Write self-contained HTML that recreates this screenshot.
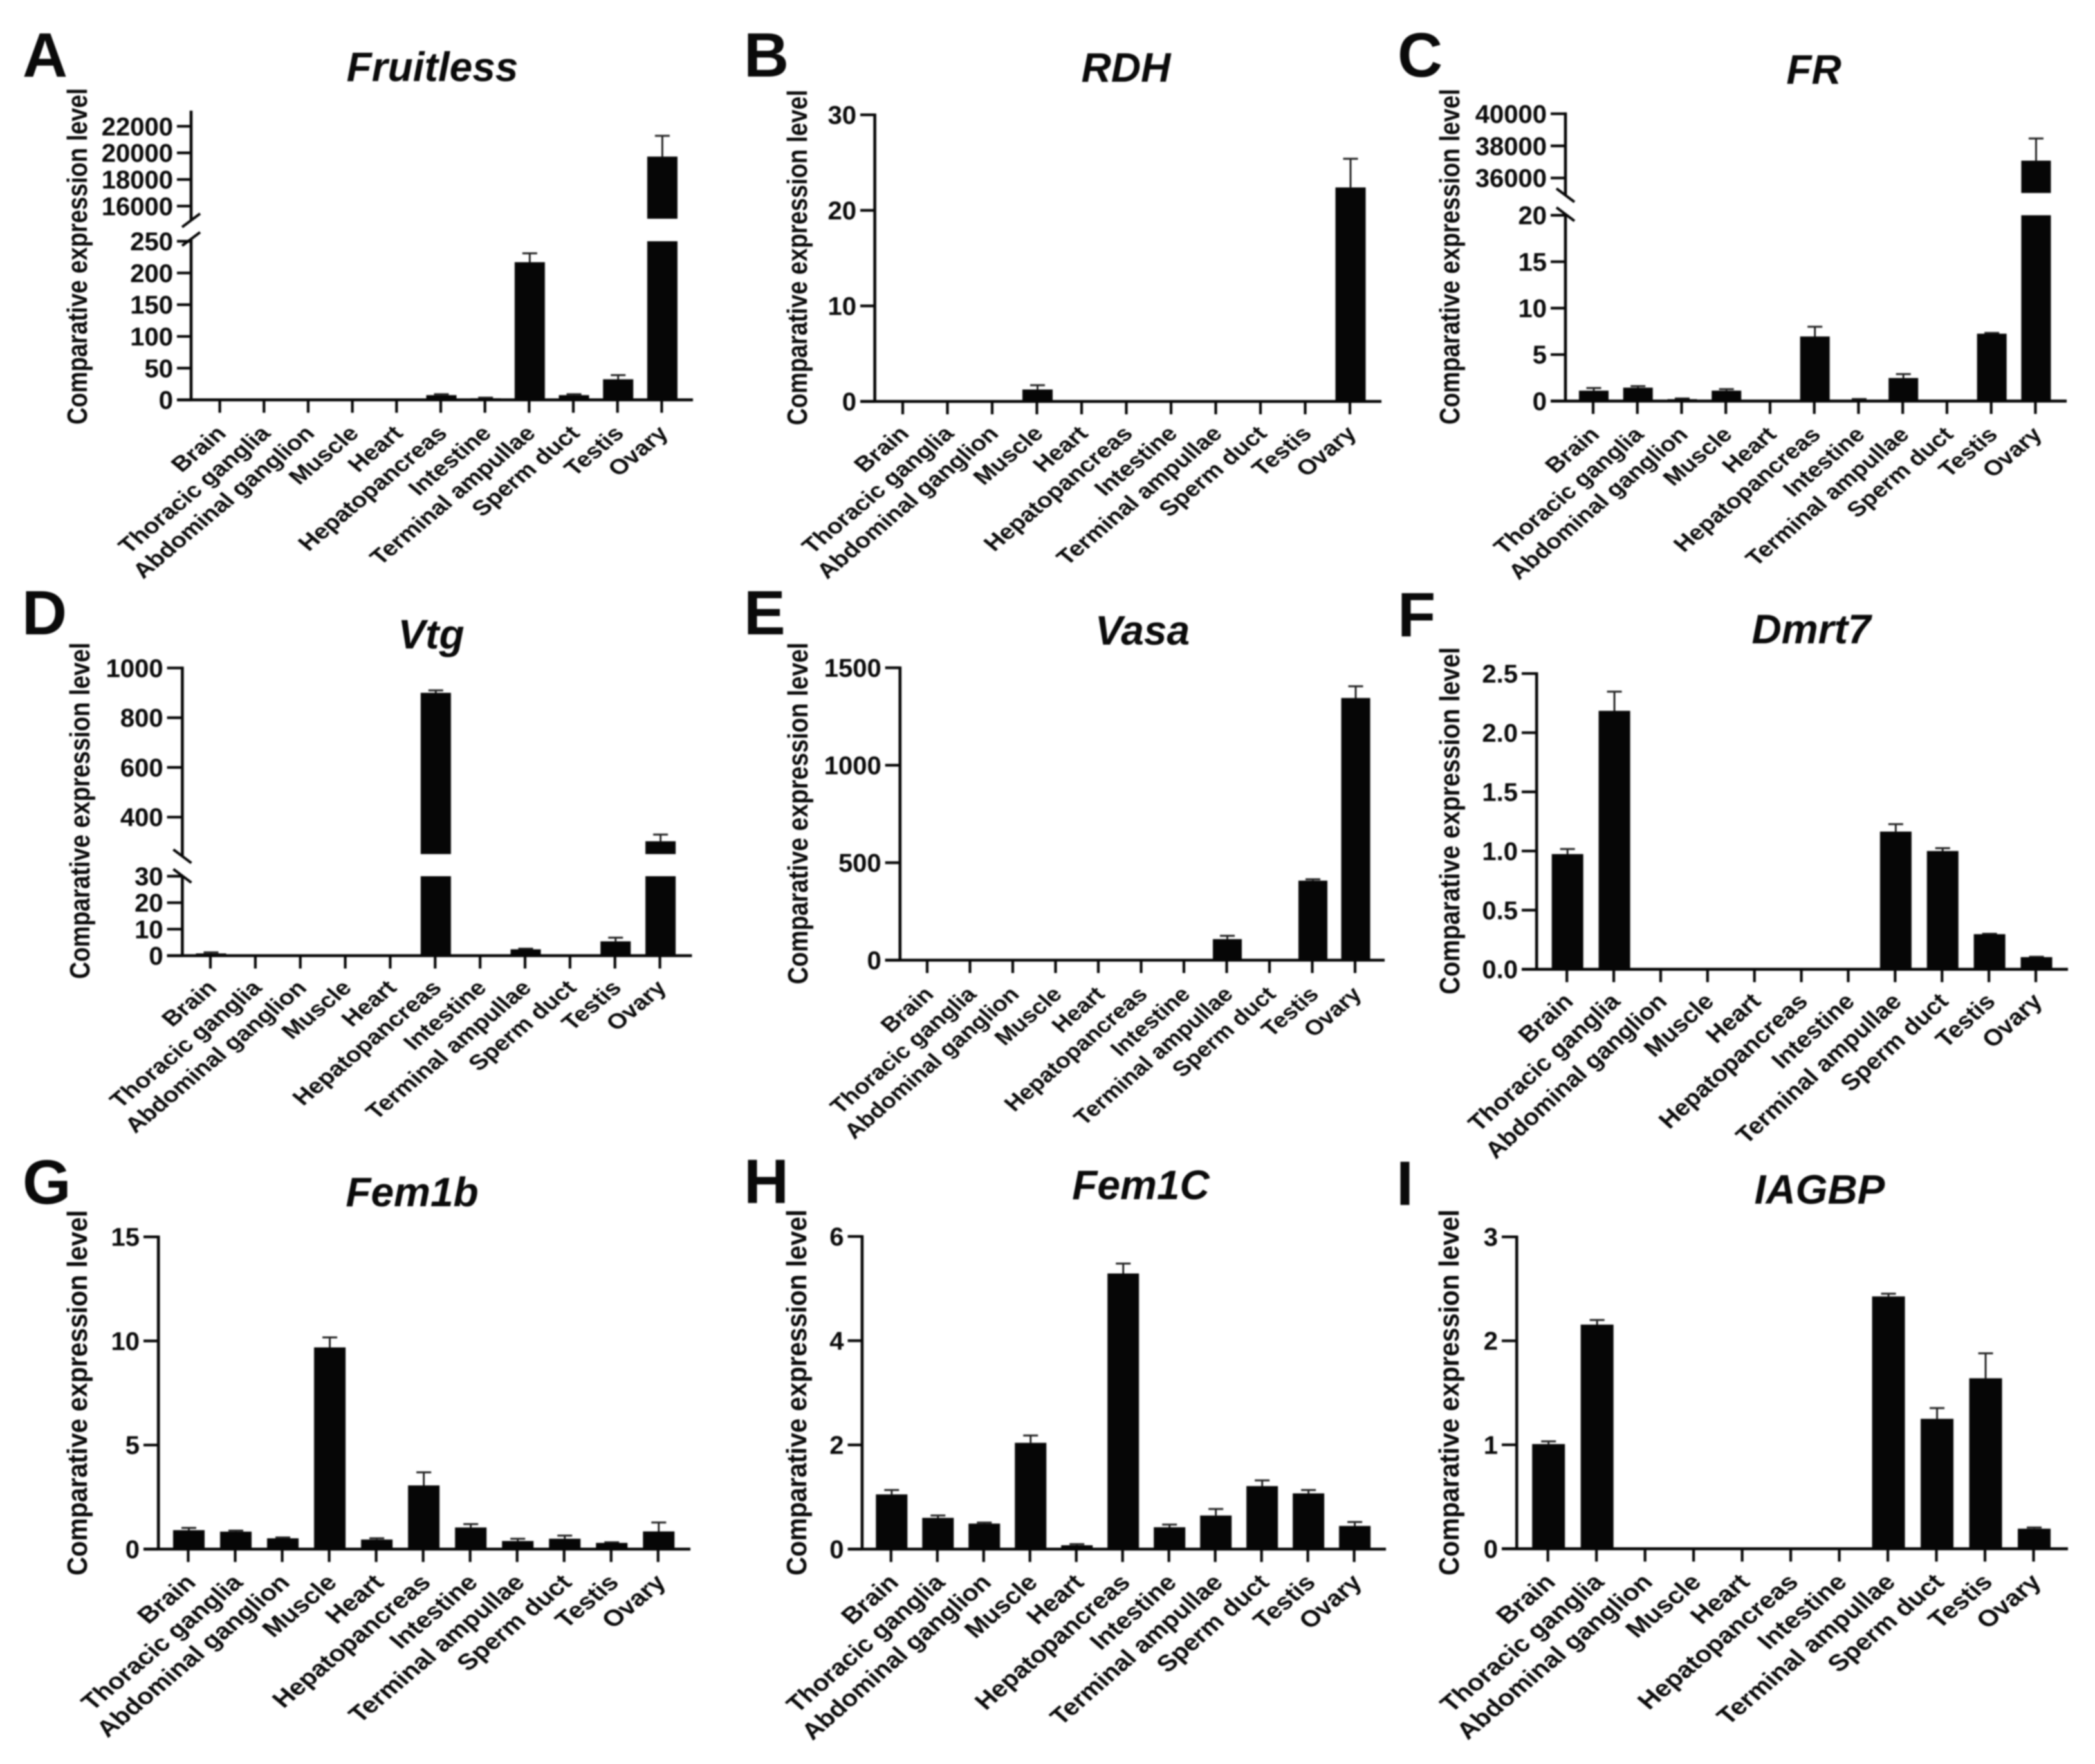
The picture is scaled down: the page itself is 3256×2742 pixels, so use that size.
<!DOCTYPE html>
<html lang="en">
<head>
<meta charset="utf-8">
<title>Comparative expression level across tissues</title>
<style>
html,body{margin:0;padding:0;background:#fff;}
#figure{display:block;width:3256px;height:2742px;filter:blur(1px);}
text{font-family:"Liberation Sans",Arial,sans-serif;font-weight:bold;fill:#0a0a0a;}
</style>
</head>
<body>
<svg id="figure" xmlns="http://www.w3.org/2000/svg" width="3256" height="2742" viewBox="0 0 3256 2742"></svg>
<script>
const tissues = ["Brain","Thoracic ganglia","Abdominal ganglion","Muscle","Heart","Hepatopancreas","Intestine","Terminal ampullae","Sperm duct","Testis","Ovary"];

const fruitlessValues = [0.3,0.2,0.4,0.2,0.2,7.5,2.5,217,7.5,32.5,19720];
const fruitlessTops   = [0.3,0.2,0.4,0.2,0.2,9,3.5,231,9,39,21280];
const fruitlessTicks  = [0,50,100,150,200,250,16000,18000,20000,22000];

const rdhValues = [0,0,0,1.25,0,0,0,0,0,0,22.4];
const rdhTops   = [0,0,0,1.7,0,0,0,0,0,0,25.4];
const rdhTicks  = [0,10,20,30];

const frValues = [1.12,1.44,0.2,1.12,0,6.95,0.1,2.48,0,7.25,37080];
const frTops   = [1.4,1.6,0.28,1.28,0,8,0.22,2.9,0,7.33,38460];
const frTicks  = [0,5,10,15,20,36000,38000,40000];

const vtgValues = [0.84,0,0,0,0,900,0,2.4,0,5.4,303];
const vtgTops   = [1.25,0,0,0,0,910,0,2.65,0,6.8,330];
const vtgTicks  = [0,10,20,30,400,600,800,1000];

const vasaValues = [0,0,0,0,0,0,0,108,0,408,1345];
const vasaTops   = [0,0,0,0,0,0,0,125,0,415,1405];
const vasaTicks  = [0,500,1000,1500];

const dmrt7Values = [0.974,2.185,0,0,0,0,0,1.164,1.0,0.297,0.103];
const dmrt7Tops   = [1.017,2.347,0,0,0,0,0,1.227,1.024,0.3,0.106];
const dmrt7Ticks  = ["0.0","0.5","1.0","1.5","2.0","2.5"];

const fem1bValues = [0.91,0.84,0.52,9.69,0.46,3.06,1.04,0.39,0.5,0.3,0.85];
const fem1bTops   = [1.02,0.89,0.56,10.17,0.52,3.69,1.2,0.5,0.65,0.33,1.28];
const fem1bTicks  = [0,5,10,15];

const fem1cValues = [1.05,0.6,0.49,2.04,0.074,5.29,0.42,0.645,1.21,1.07,0.445];
const fem1cTops   = [1.135,0.645,0.51,2.18,0.096,5.48,0.47,0.77,1.32,1.135,0.52];
const fem1cTicks  = [0,2,4,6];

const iagbpValues = [1.007,2.156,0,0,0,0,0,2.427,1.25,1.64,0.193];
const iagbpTops   = [1.033,2.2,0,0,0,0,0,2.453,1.353,1.88,0.204];
const iagbpTicks  = [0,1,2,3];

const panels = [
 {id:"a",letter:"A",lx:35,ly:119,title:"Fruitless",tx:672,ty:126,yt:{x:135,y0:137,y1:660},
  lab:{fs:39.5,sy:0.84,dx:12,dy:54},
  axisX:297,tickL:275,first:341.6,last:1028.4,end:1077,barW:47,axisTop:174,brk:{dir:1,y1:342.5,y2:371.5},
  segs:[{d0:0,d1:250,p0:621.6,p1:375},{d0:16000,d1:22000,p0:320.3,p1:196.3,barFloor:340,floorV:15080}],
  values:fruitlessValues,tops:fruitlessTops,ticks:fruitlessTicks},
 {id:"b",letter:"B",lx:1156,ly:119,title:"RDH",tx:1750,ty:127,yt:{x:1254,y0:139.5,y1:661},
  lab:{fs:39.5,sy:0.84,dx:12,dy:52},
  axisX:1359.6,tickL:1337,first:1403,last:2098,end:2147,barW:47,axisTop:178.5,
  segs:[{d0:0,d1:30,p0:624,p1:178.5}],
  values:rdhValues,tops:rdhTops,ticks:rdhTicks},
 {id:"c",letter:"C",lx:2172,ly:119,title:"FR",tx:2819,ty:130,yt:{x:2268,y0:138,y1:660},
  lab:{fs:39,sy:0.85,dx:12,dy:54},
  axisX:2433,tickL:2410,first:2476,last:3163.4,end:3212,barW:46,axisTop:176.8,brk:{dir:-1,y1:303.5,y2:333},
  segs:[{d0:0,d1:20,p0:623.4,p1:334.6},{d0:36000,d1:40000,p0:276.7,p1:176.8,barFloor:300,floorV:35000}],
  values:frValues,tops:frTops,ticks:frTicks},
 {id:"d",letter:"D",lx:34,ly:986,title:"Vtg",tx:670,ty:1008,yt:{x:139,y0:998.7,y1:1521.7},
  lab:{fs:39.5,sy:0.84,dx:12,dy:52},
  axisX:283.4,tickL:259.6,first:327,last:1025.6,end:1075.4,barW:47,axisTop:1038.3,brk:{dir:-1,y1:1331,y2:1361.5},
  segs:[{d0:0,d1:30,p0:1485.5,p1:1362},{d0:400,d1:1000,p0:1270.2,p1:1038.3,barFloor:1327.6,floorV:250}],
  values:vtgValues,tops:vtgTops,ticks:vtgTicks},
 {id:"e",letter:"E",lx:1156,ly:986,title:"Vasa",tx:1775.5,ty:1002,yt:{x:1255,y0:998.7,y1:1530},
  lab:{fs:38,sy:0.87,dx:12,dy:55},
  axisX:1398.8,tickL:1375.7,first:1441,last:2106,end:2152,barW:45,axisTop:1038,
  segs:[{d0:0,d1:1500,p0:1492.5,p1:1038}],
  values:vasaValues,tops:vasaTops,ticks:vasaTicks},
 {id:"f",letter:"F",lx:2172,ly:989,title:"Dmrt7",tx:2815,ty:1000,yt:{x:2268,y0:1006,y1:1545.8},
  lab:{fs:39.5,sy:0.91,dx:12,dy:52},
  axisX:2388.2,tickL:2365,first:2435.2,last:3164,end:3214,barW:49,axisTop:1047,
  segs:[{d0:0,d1:2.5,p0:1506.7,p1:1047}],
  values:dmrt7Values,tops:dmrt7Tops,ticks:dmrt7Ticks},
 {id:"g",letter:"G",lx:35,ly:1871,title:"Fem1b",tx:640.5,ty:1875,yt:{x:135,y0:1881,y1:2449},
  lab:{fs:42,sy:0.842,dx:14,dy:54},
  axisX:246.2,tickL:223,first:292.5,last:1022.8,end:1073,barW:49,axisTop:1922.6,
  segs:[{d0:0,d1:15,p0:2408,p1:1922.6}],
  values:fem1bValues,tops:fem1bTops,ticks:fem1bTicks},
 {id:"h",letter:"H",lx:1156,ly:1870,title:"Fem1C",tx:1773,ty:1864,yt:{x:1253,y0:1880,y1:2449},
  lab:{fs:41.2,sy:0.873,dx:14,dy:54},
  axisX:1339.9,tickL:1317.5,first:1384.8,last:2104.6,end:2154,barW:49,axisTop:1922,
  segs:[{d0:0,d1:6,p0:2408,p1:1922}],
  values:fem1cValues,tops:fem1cTops,ticks:fem1cTicks},
 {id:"i",letter:"I",lx:2170,ly:1873,title:"IAGBP",tx:2828,ty:1871,yt:{x:2267,y0:1880,y1:2449},
  lab:{fs:42.6,sy:0.844,dx:14,dy:54},
  axisX:2357.3,tickL:2334,first:2405.7,last:3160.5,end:3214,barW:51,axisTop:1922.6,
  segs:[{d0:0,d1:3,p0:2407.4,p1:1922.6}],
  values:iagbpValues,tops:iagbpTops,ticks:iagbpTicks}
];

const NS = "http://www.w3.org/2000/svg";
const INK = "#060606";
const root = document.getElementById("figure");

function make(tag, attrs, parent, content) {
  const node = document.createElementNS(NS, tag);
  for (const k in attrs) node.setAttribute(k, attrs[k]);
  if (content !== undefined) node.textContent = content;
  parent.appendChild(node);
  return node;
}

function segmentFor(p, v) {
  const lower = p.segs[0];
  if (p.segs.length === 1 || v <= lower.d1) return lower;
  return p.segs[1];
}
function yScale(p, v) {
  const s = segmentFor(p, v);
  return s.p0 + (Number(v) - s.d0) * (s.p1 - s.p0) / (s.d1 - s.d0);
}
function xScale(p, i) {
  return p.first + i * (p.last - p.first) / (tissues.length - 1);
}

panels.forEach(function (p) {
  const g = make("g", {}, root);
  
  

  const letter = make("text", {x:p.lx, y:p.ly, "font-size":97}, g, p.letter);
  
  

  const title = make("text", {x:p.tx, y:p.ty, "font-size":64, "font-style":"italic", "text-anchor":"middle"}, g, p.title);
  
  

  const yMid = (p.yt.y0 + p.yt.y1) / 2;
  const yTitle = make("text", {
    x:0, y:0, "font-size":44, "text-anchor":"middle",
    textLength:(p.yt.y1 - p.yt.y0), lengthAdjust:"spacingAndGlyphs",
    transform:"translate(" + p.yt.x + "," + yMid + ") rotate(-90)"
  }, g, "Comparative expression level");
  
  

  // bars
  const y0 = yScale(p, 0);
  p.values.forEach(function (v, i) {
    const cx = xScale(p, i);
    const bx = cx + 1;
    const top = p.tops[i];
    if (top > v) {
      const yTop = yScale(p, top), yVal = yScale(p, v);
      const stem = make("line", {x1:bx, x2:bx, y1:yVal, y2:yTop, stroke:INK, "stroke-width":2.6}, g);
      
      
      const cap = make("line", {x1:bx-11.5, x2:bx+11.5, y1:yTop, y2:yTop, stroke:"#222", "stroke-width":3}, g);
      
      
    }
    if (v <= 0) return;
    const seg = segmentFor(p, v);
    if (seg === p.segs[0]) {
      const yv = yScale(p, v);
      const bar = make("rect", {x:bx-p.barW/2, y:yv, width:p.barW, height:y0-yv, fill:INK}, g);
      
      
    } else {
      const low = p.segs[0];
      const lowBar = make("rect", {x:bx-p.barW/2, y:low.p1, width:p.barW, height:low.p0-low.p1, fill:INK}, g);
      
      
      const yv = yScale(p, v);
      const upBar = make("rect", {x:bx-p.barW/2, y:yv, width:p.barW, height:seg.barFloor-yv, fill:INK}, g);
      
      
    }
  });

  // y axis
  if (p.brk) {
    const upper = make("line", {x1:p.axisX, x2:p.axisX, y1:p.axisTop-2, y2:p.brk.y1, stroke:INK, "stroke-width":4.6}, g);
    
    
    const lower = make("line", {x1:p.axisX, x2:p.axisX, y1:p.brk.y2, y2:y0+2, stroke:INK, "stroke-width":4.6}, g);
    
    
    [p.brk.y1, p.brk.y2].forEach(function (by, n) {
      const d = p.brk.dir;
      const slash = make("line", {x1:p.axisX-14, x2:p.axisX+14, y1:by+d*10.5, y2:by-d*10.5, stroke:INK, "stroke-width":4.2}, g);
      
      
    });
  } else {
    const axis = make("line", {x1:p.axisX, x2:p.axisX, y1:p.axisTop-2, y2:y0+2, stroke:INK, "stroke-width":4.6}, g);
    
    
  }

  p.ticks.forEach(function (t) {
    const ty = yScale(p, t);
    const tick = make("line", {x1:p.tickL, x2:p.axisX, y1:ty, y2:ty, stroke:INK, "stroke-width":4.2}, g);
    
    
    const label = make("text", {x:p.tickL-6, y:ty+14, "font-size":40, "text-anchor":"end"}, g, String(t));
    
    
  });

  // x axis
  const xAxis = make("line", {x1:p.tickL, x2:p.end, y1:y0, y2:y0, stroke:INK, "stroke-width":4.6}, g);
  
  

  tissues.forEach(function (name, i) {
    const cx = xScale(p, i);
    const tick = make("line", {x1:cx, x2:cx, y1:y0, y2:y0+20, stroke:INK, "stroke-width":4.2}, g);
    
    
    const label = make("text", {
      x:0, y:0, "font-size":p.lab.fs, "text-anchor":"end",
      transform:"translate(" + (cx+p.lab.dx) + "," + (y0+p.lab.dy) + ") scale(1," + p.lab.sy + ") rotate(-45)"
    }, g, name);
    
    
  });
});
</script>
</body>
</html>
